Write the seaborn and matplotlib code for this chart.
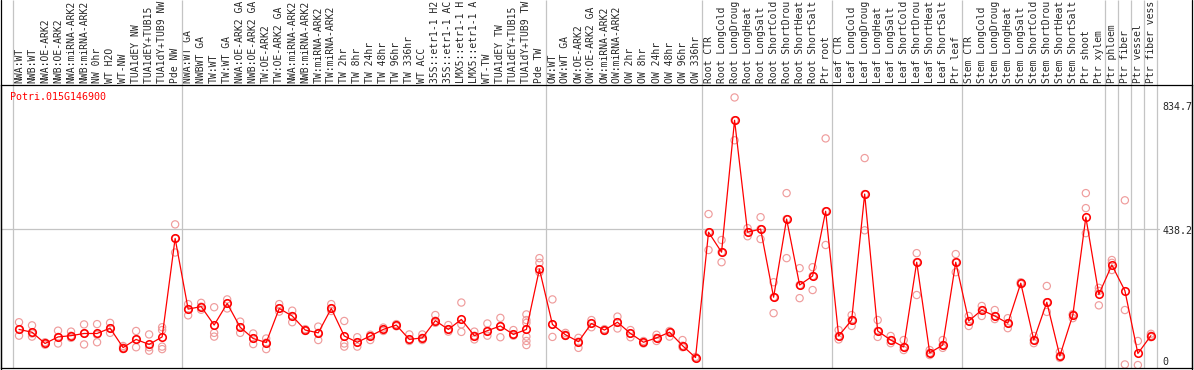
import numpy as np
import pandas as pd
import matplotlib
matplotlib.use("Agg")
import matplotlib.pyplot as plt
from matplotlib.lines import Line2D
import seaborn as sns

gene_id = "Potri.015G146900"

conditions = [
    "NWA:WT", "NWB:WT", "NWA:OE-ARK2", "NWB:OE-ARK2", "NWA:miRNA-ARK2", "NWB:miRNA-ARK2",
    "NW 0hr", "WT H2O", "WT-NW", "TUA1dEY NW", "TUA1dEY+TUB15 NW", "TUA1dY+TUB9 NW", "Pde NW",
    "NWA:WT GA", "NWBWT GA", "TW:WT", "TW:WT GA", "NWA:OE-ARK2 GA", "NWB:OE-ARK2 GA",
    "TW:OE-ARK2", "TW:OE-ARK2 GA", "NWA:miRNA-ARK2 GA", "NWB:miRNA-ARK2 GA", "TW:miRNA-ARK2",
    "TW:miRNA-ARK2 GA", "TW 2hr", "TW 8hr", "TW 24hr", "TW 48hr", "TW 96hr", "TW 336hr", "WT ACC",
    "35S::etr1-1 H2O", "35S::etr1-1 ACC", "LMX5::etr1-1 H2O", "LMX5::etr1-1 ACC", "WT-TW",
    "TUA1dEY TW", "TUA1dEY+TUB15 TW", "TUA1dY+TUB9 TW", "Pde TW",
    "OW:WT", "OW:WT GA", "OW:OE-ARK2", "OW:OE-ARK2 GA", "OW:miRNA-ARK2", "OW:miRNA-ARK2 GA",
    "OW 2hr", "OW 8hr", "OW 24hr", "OW 48hr", "OW 96hr", "OW 336hr",
    "Root CTR", "Root LongCold", "Root LongDrought", "Root LongHeat", "Root LongSalt",
    "Root ShortCold", "Root ShortDrought", "Root ShortHeat", "Root ShortSalt", "Ptr root",
    "Leaf CTR", "Leaf LongCold", "Leaf LongDrought", "Leaf LongHeat", "Leaf LongSalt",
    "Leaf ShortCold", "Leaf ShortDrought", "Leaf ShortHeat", "Leaf ShortSalt", "Ptr leaf",
    "Stem CTR", "Stem LongCold", "Stem LongDrought", "Stem LongHeat", "Stem LongSalt",
    "Stem ShortCold", "Stem ShortDrought", "Stem ShortHeat", "Stem ShortSalt", "Ptr shoot",
    "Ptr xylem", "Ptr phloem", "Ptr fiber", "Ptr vessel", "Ptr fiber vessel",
]

# number of conditions between the grey separator lines
group_sizes = [13, 28, 12, 10, 10, 11, 1, 1, 1, 1]

means = [
    117, 108, 72, 93, 97, 104, 104, 121, 59, 85, 69, 93, 408,
    182, 190, 131, 200, 124, 88, 75, 184, 160, 115, 106, 184, 96, 76, 96, 117, 131, 85, 90,
    145, 117, 149, 97, 113, 128, 101, 117, 310,
    133, 100, 78, 136, 115, 140, 104, 76, 90, 108, 65, 27,
    428, 364, 786, 428, 438, 220, 470, 259, 288, 495,
    96, 147, 550, 112, 83, 61, 332, 42, 67, 332,
    144, 179, 160, 137, 265, 83, 204, 32, 163, 476,
    229, 323, 241, 40, 97,
]

replicates = [
    [140, 117, 97], [130, 104, 94], [76, 72, 68], [113, 93, 72], [110, 97, 90],
    [133, 104, 69], [134, 100, 76], [138, 121, 106], [64, 59, 54], [112, 85, 60],
    [101, 60, 49], [124, 115, 62, 54], [453, 408, 363],
    [198, 182, 162], [202, 190, 180], [188, 106, 94], [213, 200, 184], [142, 124, 106],
    [104, 88, 70], [88, 75, 54], [198, 184, 174], [177, 160, 140], [118, 115, 112],
    [126, 106, 83], [198, 184, 176], [144, 72, 62], [92, 76, 62], [100, 96, 83],
    [123, 117, 112], [134, 131, 127], [101, 85, 80], [101, 90, 83], [163, 145, 138],
    [131, 117, 110], [203, 133, 109], [110, 97, 85], [136, 113, 97], [154, 128, 92],
    [115, 101, 97], [165, 147, 138, 94, 80, 67], [345, 330, 300],
    [213, 133, 93], [106, 100, 96], [90, 78, 58], [147, 136, 124], [118, 115, 112],
    [158, 140, 120], [115, 104, 92], [80, 76, 72], [100, 90, 80], [112, 108, 94],
    [83, 65, 60], [29, 27, 25],
    [486, 428, 371], [403, 364, 332], [859, 786, 722], [441, 428, 415], [476, 438, 406],
    [268, 220, 169], [553, 470, 345], [313, 259, 217], [316, 288, 243], [728, 495, 387],
    [115, 96, 85], [163, 147, 128], [665, 550, 434], [147, 112, 93], [96, 83, 73],
    [83, 61, 51], [361, 332, 227], [51, 42, 35], [83, 67, 58], [358, 332, 300],
    [160, 144, 128], [192, 179, 160], [179, 160, 150], [153, 137, 121], [268, 265, 262],
    [96, 83, 73], [256, 204, 173], [45, 32, 26], [166, 163, 153], [553, 505, 425],
    [250, 240, 194], [339, 330, 307], [530, 179, 5], [80, 3], [103, 97, 92],
]

y_marks = [834.7, 438.2, 0]
grid_value = 438.2

sns.set_style("white")
plt.rcParams["font.family"] = ["DejaVu Sans Mono"]
FS = 7.2

idx = np.arange(len(conditions))
mean_df = pd.DataFrame({"idx": idx, "value": means})
rep_df = pd.DataFrame(
    [(i, v) for i, vals in enumerate(replicates) for v in vals], columns=["idx", "value"]
)

fig = plt.figure(figsize=(11.94, 3.70), dpi=100)
ax = fig.add_axes([1 / 1194, 2 / 370, 1191 / 1194, 283 / 370])

sns.scatterplot(data=rep_df, x="idx", y="value", ax=ax, marker="o", s=5.2 ** 2,
                color="#ef9c9c", facecolors="none", edgecolor="#ef9c9c",
                linewidth=0.85, zorder=2, legend=False)
sns.lineplot(data=mean_df, x="idx", y="value", ax=ax, color="red", lw=0.9,
             marker="o", markersize=5.4, markerfacecolor="none",
             markeredgecolor="red", markeredgewidth=1.15, zorder=3, legend=False)

ax.set_xlim(-1.384, 90.16)
ax.set_ylim(-6.4, 898.8)

# separators between sample groups, running up through the label area
breaks = np.concatenate([[0], np.cumsum(group_sizes)]) - 0.5
ax.vlines(breaks, 0, 1.3, transform=ax.get_xaxis_transform(), colors="#c4c4c4",
          lw=0.9, clip_on=False, zorder=1)
ax.axhline(grid_value, xmin=0, xmax=(87.6 + 1.384) / (90.16 + 1.384),
           color="#c4c4c4", lw=0.9, zorder=1)

# the header area only has room for about 14 characters, as in the original
ax.set_xticks(idx)
ax.set_xticklabels([c[:14] for c in conditions], rotation=90, fontsize=7.0)
ax.xaxis.tick_top()
ax.tick_params(axis="x", length=0, pad=1.2)
ax.set_yticks([])
ax.set_xlabel("")
ax.set_ylabel("")

for v, off in zip(y_marks, [-2, -2, 4]):
    ax.annotate(f"{v:g}", xy=(87.9, v), xytext=(0, off), textcoords="offset pixels",
                ha="left", va="center", fontsize=FS)

for sp in ax.spines.values():
    sp.set_color("black")
    sp.set_linewidth(0.9)

for xf in (1 / 1194, 1192 / 1194):
    fig.add_artist(Line2D([xf, xf], [0, 1], transform=fig.transFigure, color="black", lw=0.9))

fig.text(10 / 1194, 1 - 97 / 370, gene_id, color="red", fontsize=FS, ha="left", va="center")

fig.savefig("out.png", dpi=100)
